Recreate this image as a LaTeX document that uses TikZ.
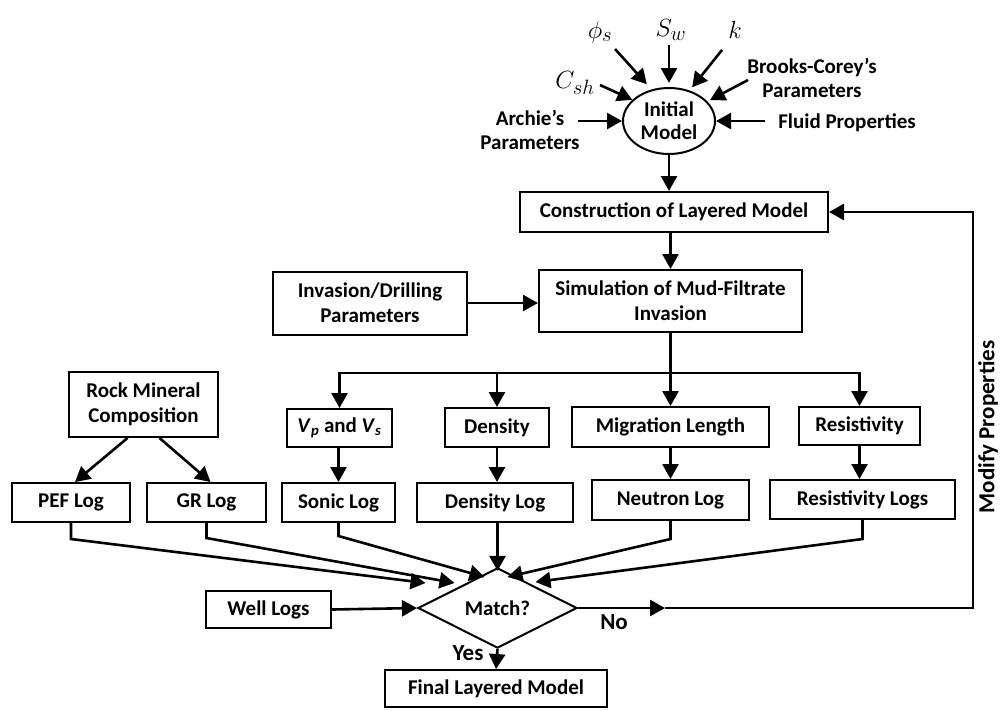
\documentclass[tikz,border=0pt]{standalone}
\usepackage{fontspec}
\setmainfont{Carlito}
\usetikzlibrary{shapes.geometric,arrows.meta}
\begin{document}
\begin{tikzpicture}[x=1pt,y=-1pt,
  box/.style={draw, line width=2pt, inner sep=0pt, align=center, font=\fontsize{21}{25}\selectfont\bfseries},
  lbl/.style={inner sep=0pt, align=center, font=\fontsize{21}{24}\selectfont\bfseries},
  sym/.style={inner sep=0pt, font=\fontsize{30}{30}\selectfont},
  line/.style={line width=2.6pt},
  arr/.style={line width=2.6pt, -{Triangle[length=15pt,width=16pt]}}]
\useasboundingbox (0,0) rectangle (1000,710);
% top: initial model and its inputs
\node[draw, ellipse, line width=2pt, minimum width=92, minimum height=66, inner sep=0pt, align=center, font=\fontsize{21}{23}\selectfont\bfseries] (init) at (669,121) {Initial\\Model};
\node[sym] (phis) at (600,32) {$\phi_s$};
\node[sym] (sw) at (671,30) {$S_w$};
\node[sym] (kk) at (735,30) {$k$};
\node[sym] (csh) at (575,83) {$C_{sh}$};
\node[lbl] (brooks) at (812,78) {Brooks-Corey's\\Parameters};
\node[lbl] (fluid) at (847,123) {Fluid Properties};
\node[lbl] (archie) at (530,130) {Archie's\\Parameters};
\coordinate (a1) at (615,49);
\coordinate (a2) at (669,45);
\coordinate (a3) at (722,50);
\coordinate (a4) at (600,85);
\coordinate (a5) at (748,80);
\coordinate (a6) at (765,121);
\coordinate (a7) at (578,121);
\draw[arr, shorten >=7pt] (a1) -- (init.119);
\draw[arr, shorten >=4pt] (a2) -- (init.north);
\draw[arr, shorten >=4pt] (a3) -- (init.56);
\draw[arr] (a4) -- (init.150);
\draw[arr, shorten >=3pt] (a5) -- (init.27);
\draw[arr] (a6) -- (init.east);
\draw[arr] (a7) -- (init.west);
% main chain
\node[box, minimum width=308, minimum height=40] (constr) at (674,212) {Construction of Layered Model};
\node[box, minimum width=263, minimum height=62] (sim) at (670.5,301) {Simulation of Mud-Filtrate\\Invasion};
\node[box, minimum width=194, minimum height=63] (inv) at (370,303) {Invasion/Drilling\\Parameters};
\draw[arr] (init.south) -- (init.south |- constr.north);
\draw[arr] (constr.south -| sim.north) -- (sim.north);
\draw[arr] (inv.east) -- (inv.east -| sim.west);
% property boxes
\node[box, minimum width=149, minimum height=65] (rock) at (143.5,404.5) {Rock Mineral\\Composition};
\node[box, minimum width=105, minimum height=38] (vpvs) at (339.5,428) {\textit{V}\textsubscript{\textit{p}} and \textit{V}\textsubscript{\textit{s}}};
\node[box, minimum width=104, minimum height=39] (dens) at (497,427.5) {Density};
\node[box, minimum width=197, minimum height=40] (migr) at (670.5,427) {Migration Length};
\node[box, minimum width=121, minimum height=38] (resis) at (859.5,426) {Resistivity};
% log boxes
\node[box, minimum width=118, minimum height=39] (pef) at (71,502.5) {PEF Log};
\node[box, minimum width=119, minimum height=39] (gr) at (206.5,502.5) {GR Log};
\node[box, minimum width=113, minimum height=39] (sonic) at (338.5,502.5) {Sonic Log};
\node[box, minimum width=156, minimum height=39] (dlog) at (495,502.5) {Density Log};
\node[box, minimum width=157, minimum height=40] (neut) at (670.5,500) {Neutron Log};
\node[box, minimum width=185, minimum height=39] (rlogs) at (862.5,499.5) {Resistivity Logs};
% matching
\node[draw, diamond, line width=2pt, minimum width=159, minimum height=58, inner sep=0pt, font=\fontsize{21}{22}\selectfont\bfseries] (match) at (497.5,608) {Match?};
\node[box, minimum width=125, minimum height=37] (well) at (268.5,609.5) {Well Logs};
\node[box, minimum width=222, minimum height=37] (final) at (496,688.5) {Final Layered Model};
% branch
\coordinate (br) at (670.5,373);
\draw[arr] (sim.south) -- (migr.north);
\draw[arr] (br) -| (vpvs.north);
\draw[arr] (br) -| (dens.north);
\draw[arr] (br) -| (resis.north);
\draw[arr] ([xshift=-16pt]rock.south) -- ([xshift=4pt]pef.north);
\draw[arr] ([xshift=16pt]rock.south) -- ([xshift=4pt]gr.north);
\draw[arr] (vpvs.south -| sonic.north) -- (sonic.north);
\draw[arr] (dens.south) -- (dens.south |- dlog.north);
\draw[arr] (migr.south) -- (migr.south |- neut.north);
\draw[arr] (resis.south) -- (resis.south |- rlogs.north);
% logs to match
\draw[arr] (pef.south) -- ++(0,16) -- ([shift={(-72,-25)}]match.center);
\draw[arr] (gr.south) -- ++(0,15) -- ([shift={(-43,-25)}]match.center);
\draw[arr] (sonic.south) -- ++(0,13) -- ([shift={(-13,-31)}]match.center);
\draw[arr] (dlog.south -| match.north) -- ([yshift=-4pt]match.north);
\draw[arr] (neut.south) -- ++(0,18) -- ([shift={(10,-31)}]match.center);
\draw[arr] (rlogs.south) -- ++(0,19) -- ([shift={(38,-26)}]match.center);
\draw[arr] (well.east) -- (match.west);
\draw[arr] (match.south) -- (final.north);
\node[lbl, font=\fontsize{23}{24}\selectfont\bfseries] (yes) at (468,653) {Yes};
% feedback loop
\coordinate (nomid) at (665,608);
\coordinate (c1) at (973,608);
\draw[arr] (match.east) -- (nomid);
\draw[arr] (nomid) -- (c1) |- (constr.east);
\node[lbl, font=\fontsize{23}{23}\selectfont\bfseries] (no) at (614,622) {No};
\node[lbl, font=\fontsize{23}{23}\selectfont\bfseries, rotate=90] (modify) at (988,427) {Modify Properties};
\end{tikzpicture}
\end{document}
